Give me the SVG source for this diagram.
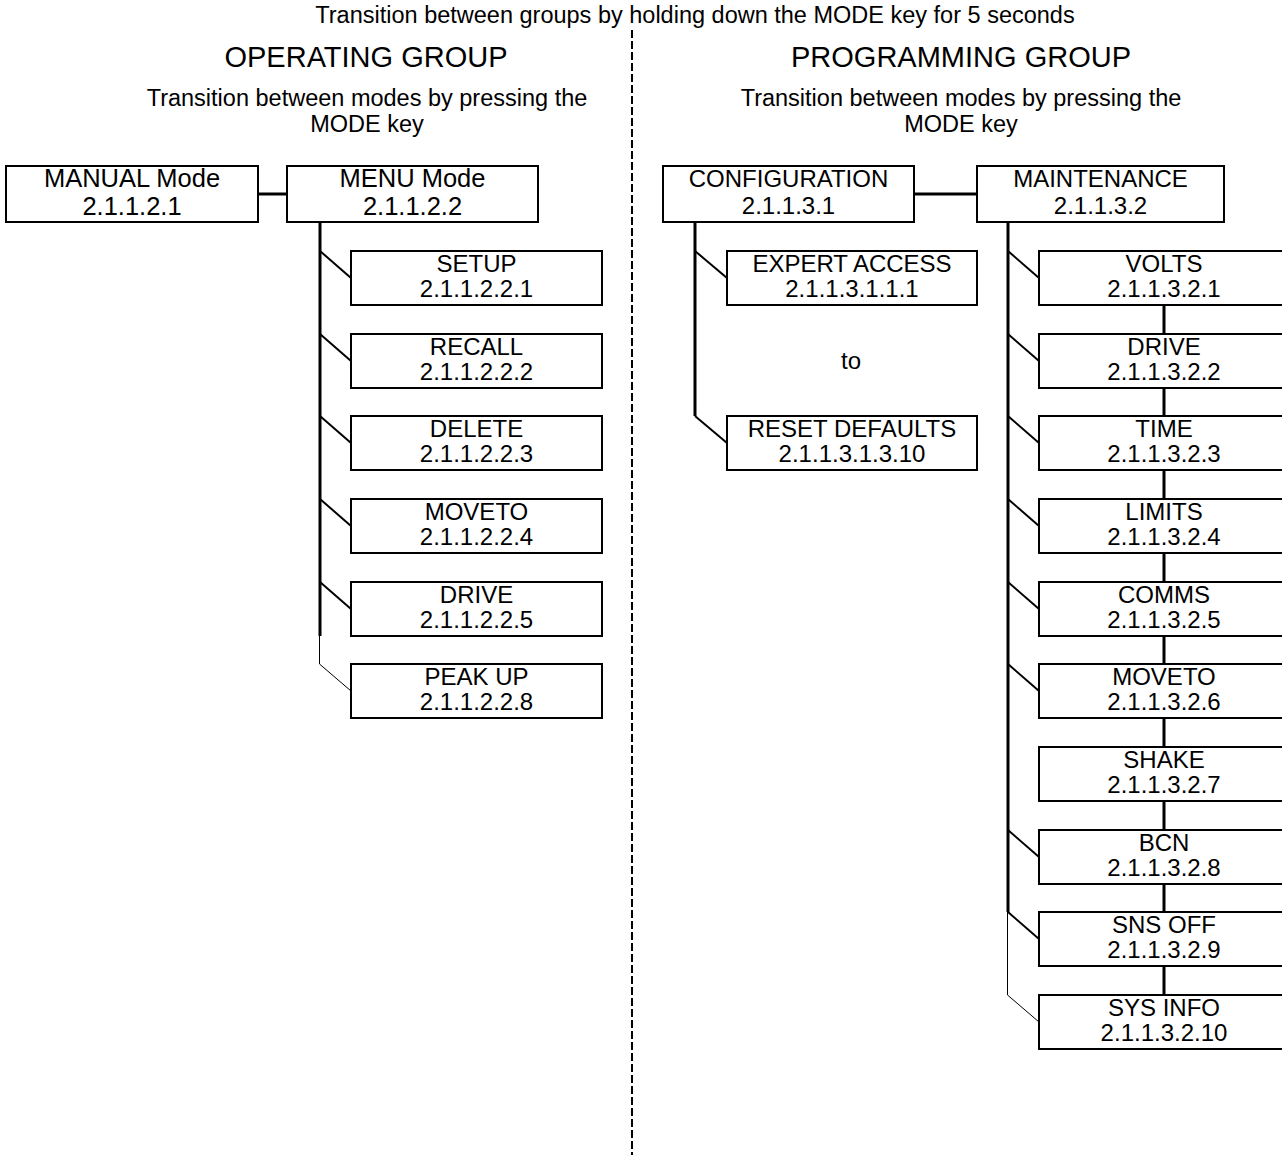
<svg xmlns="http://www.w3.org/2000/svg" width="1282" height="1155" viewBox="0 0 1282 1155">
<style>
text{font-family:"Liberation Sans",Arial,sans-serif;fill:#000;text-anchor:middle}
.t{font-size:23.5px}
.h{font-size:29px}
.n{font-size:24px}
.nb{font-size:25.5px}
.box{fill:#fff;stroke:#000;stroke-width:2}
.trunk{stroke:#000;stroke-width:3;fill:none}
.diag{stroke:#000;stroke-width:2;fill:none}
.thin{stroke:#000;stroke-width:1;fill:none}
.dash{stroke:#000;stroke-width:2;stroke-dasharray:8 3;fill:none}
</style>
<rect width="1282" height="1155" fill="#fff"/>
<g id="headings">
<text class="t" x="695" y="23">Transition between groups by holding down the MODE key for 5 seconds</text>
<text class="h" x="366" y="67">OPERATING GROUP</text>
<text class="h" x="961" y="67">PROGRAMMING GROUP</text>
<text class="t" x="367" y="106">Transition between modes by pressing the</text>
<text class="t" x="367" y="132">MODE key</text>
<text class="t" x="961" y="106">Transition between modes by pressing the</text>
<text class="t" x="961" y="132">MODE key</text>
<text class="n" x="851" y="369">to</text>
</g>
<g id="connectors">
<line class="dash" x1="632" y1="30" x2="632" y2="1155"/>
<line class="trunk" x1="258" y1="194" x2="287" y2="194"/>
<line class="trunk" x1="914" y1="194" x2="977" y2="194"/>
<line class="trunk" x1="320" y1="222" x2="320" y2="636"/>
<line class="thin" x1="319.5" y1="636" x2="319.5" y2="664"/>
<line class="diag" x1="320" y1="251" x2="351" y2="278"/>
<line class="diag" x1="320" y1="334" x2="351" y2="361"/>
<line class="diag" x1="320" y1="416" x2="351" y2="443"/>
<line class="diag" x1="320" y1="499" x2="351" y2="526"/>
<line class="diag" x1="320" y1="582" x2="351" y2="609"/>
<line class="thin" x1="319.5" y1="664" x2="351" y2="691"/>
<line class="trunk" x1="695" y1="222" x2="695" y2="416"/>
<line class="diag" x1="695" y1="251" x2="727" y2="278"/>
<line class="diag" x1="695" y1="416" x2="727" y2="443"/>
<line class="trunk" x1="1008" y1="222" x2="1008" y2="912"/>
<line class="thin" x1="1007.5" y1="912" x2="1007.5" y2="995"/>
<line class="diag" x1="1008" y1="251" x2="1039" y2="278"/>
<line class="diag" x1="1008" y1="334" x2="1039" y2="361"/>
<line class="diag" x1="1008" y1="416" x2="1039" y2="443"/>
<line class="diag" x1="1008" y1="499" x2="1039" y2="526"/>
<line class="diag" x1="1008" y1="582" x2="1039" y2="609"/>
<line class="diag" x1="1008" y1="664" x2="1039" y2="691"/>
<line class="diag" x1="1008" y1="830" x2="1039" y2="857"/>
<line class="diag" x1="1008" y1="912" x2="1039" y2="939"/>
<line class="thin" x1="1007.5" y1="995" x2="1039" y2="1022"/>
<line class="trunk" x1="1164" y1="305" x2="1164" y2="334"/>
<line class="trunk" x1="1164" y1="388" x2="1164" y2="416"/>
<line class="trunk" x1="1164" y1="470" x2="1164" y2="499"/>
<line class="trunk" x1="1164" y1="553" x2="1164" y2="582"/>
<line class="trunk" x1="1164" y1="636" x2="1164" y2="664"/>
<line class="trunk" x1="1164" y1="718" x2="1164" y2="747"/>
<line class="trunk" x1="1164" y1="801" x2="1164" y2="830"/>
<line class="trunk" x1="1164" y1="884" x2="1164" y2="912"/>
<line class="trunk" x1="1164" y1="966" x2="1164" y2="995"/>
</g>
<g id="manual"><rect class="box" x="6" y="166" width="252" height="56"/><text class="nb" x="132" y="187">MANUAL Mode</text><text class="nb" x="132" y="215">2.1.1.2.1</text></g>
<g id="menu"><rect class="box" x="287" y="166" width="251" height="56"/><text class="nb" x="412.5" y="187">MENU Mode</text><text class="nb" x="412.5" y="215">2.1.1.2.2</text></g>
<g id="setup"><rect class="box" x="351" y="251" width="251" height="54"/><text class="n" x="476.5" y="272">SETUP</text><text class="n" x="476.5" y="297">2.1.1.2.2.1</text></g>
<g id="recall"><rect class="box" x="351" y="334" width="251" height="54"/><text class="n" x="476.5" y="355">RECALL</text><text class="n" x="476.5" y="380">2.1.1.2.2.2</text></g>
<g id="delete"><rect class="box" x="351" y="416" width="251" height="54"/><text class="n" x="476.5" y="437">DELETE</text><text class="n" x="476.5" y="462">2.1.1.2.2.3</text></g>
<g id="moveto1"><rect class="box" x="351" y="499" width="251" height="54"/><text class="n" x="476.5" y="520">MOVETO</text><text class="n" x="476.5" y="545">2.1.1.2.2.4</text></g>
<g id="drive1"><rect class="box" x="351" y="582" width="251" height="54"/><text class="n" x="476.5" y="603">DRIVE</text><text class="n" x="476.5" y="628">2.1.1.2.2.5</text></g>
<g id="peakup"><rect class="box" x="351" y="664" width="251" height="54"/><text class="n" x="476.5" y="685">PEAK UP</text><text class="n" x="476.5" y="710">2.1.1.2.2.8</text></g>
<g id="configuration"><rect class="box" x="663" y="166" width="251" height="56"/><text class="n" x="788.5" y="187">CONFIGURATION</text><text class="n" x="788.5" y="214">2.1.1.3.1</text></g>
<g id="maintenance"><rect class="box" x="977" y="166" width="247" height="56"/><text class="n" x="1100.5" y="187">MAINTENANCE</text><text class="n" x="1100.5" y="214">2.1.1.3.2</text></g>
<g id="expert"><rect class="box" x="727" y="251" width="250" height="54"/><text class="n" x="852" y="272">EXPERT ACCESS</text><text class="n" x="852" y="297">2.1.1.3.1.1.1</text></g>
<g id="reset"><rect class="box" x="727" y="416" width="250" height="54"/><text class="n" x="852" y="437">RESET DEFAULTS</text><text class="n" x="852" y="462">2.1.1.3.1.3.10</text></g>
<g id="volts"><rect class="box" x="1039" y="251" width="251" height="54"/><text class="n" x="1164" y="272">VOLTS</text><text class="n" x="1164" y="297">2.1.1.3.2.1</text></g>
<g id="drive2"><rect class="box" x="1039" y="334" width="251" height="54"/><text class="n" x="1164" y="355">DRIVE</text><text class="n" x="1164" y="380">2.1.1.3.2.2</text></g>
<g id="time"><rect class="box" x="1039" y="416" width="251" height="54"/><text class="n" x="1164" y="437">TIME</text><text class="n" x="1164" y="462">2.1.1.3.2.3</text></g>
<g id="limits"><rect class="box" x="1039" y="499" width="251" height="54"/><text class="n" x="1164" y="520">LIMITS</text><text class="n" x="1164" y="545">2.1.1.3.2.4</text></g>
<g id="comms"><rect class="box" x="1039" y="582" width="251" height="54"/><text class="n" x="1164" y="603">COMMS</text><text class="n" x="1164" y="628">2.1.1.3.2.5</text></g>
<g id="moveto2"><rect class="box" x="1039" y="664" width="251" height="54"/><text class="n" x="1164" y="685">MOVETO</text><text class="n" x="1164" y="710">2.1.1.3.2.6</text></g>
<g id="shake"><rect class="box" x="1039" y="747" width="251" height="54"/><text class="n" x="1164" y="768">SHAKE</text><text class="n" x="1164" y="793">2.1.1.3.2.7</text></g>
<g id="bcn"><rect class="box" x="1039" y="830" width="251" height="54"/><text class="n" x="1164" y="851">BCN</text><text class="n" x="1164" y="876">2.1.1.3.2.8</text></g>
<g id="snsoff"><rect class="box" x="1039" y="912" width="251" height="54"/><text class="n" x="1164" y="933">SNS OFF</text><text class="n" x="1164" y="958">2.1.1.3.2.9</text></g>
<g id="sysinfo"><rect class="box" x="1039" y="995" width="251" height="54"/><text class="n" x="1164" y="1016">SYS INFO</text><text class="n" x="1164" y="1041">2.1.1.3.2.10</text></g>
</svg>
